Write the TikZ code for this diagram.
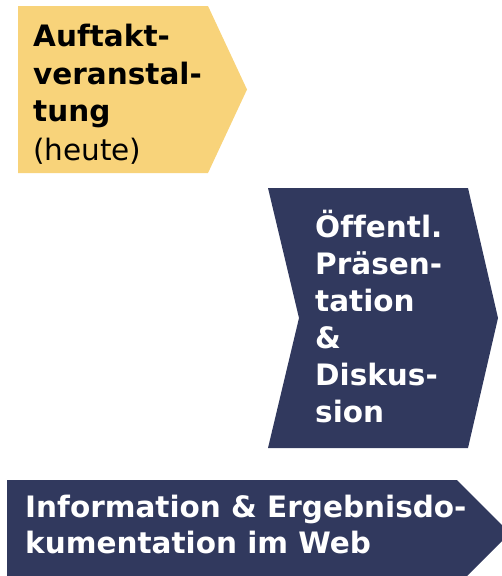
\documentclass[tikz,border=0pt]{standalone}
\usepackage{fontspec}
\setmainfont[Ligatures=NoCommon]{DejaVu Sans}
\definecolor{stepyellow}{RGB}{248,211,122}
\definecolor{stepnavy}{RGB}{49,57,94}
\tikzset{
  lbl/.style={anchor=base west, inner sep=0pt, font=\fontsize{29.5}{37}\selectfont\bfseries},
  lbldark/.style={lbl, text=black},
  lbllight/.style={lbl, text=white},
}
\begin{document}
\begin{tikzpicture}[x=1pt,y=-1pt]
\useasboundingbox (0,0) rectangle (502,576);
\clip (0,0) rectangle (502,576);
% shapes
\fill[stepyellow] (18,6) -- (208,6) -- (247,89.5) -- (208,173) -- (18,173) -- cycle;
\fill[stepnavy] (268,188) -- (468,188) -- (498,318) -- (468,448) -- (268,448) -- (299,318) -- cycle;
\fill[stepnavy] (7,480) -- (457,480) -- (510,533) -- (457,586) -- (7,586) -- cycle;
% texts
\node[lbldark] (a1) at (33,46) {Auftakt-};
\node[lbldark] (a2) at (33,84) {veranstal-};
\node[lbldark] (a3) at (33,121) {tung};
\node[lbldark, font=\fontsize{29.5}{37}\selectfont] (a4) at (33,160) {(heute)};
\node[lbllight] (b1) at (315,237) {Öffentl.};
\node[lbllight] (b2) at (315,274) {Präsen-};
\node[lbllight] (b3) at (315,311) {tation};
\node[lbllight] (b4) at (315,348) {\&};
\node[lbllight] (b5) at (315,385) {Diskus-};
\node[lbllight] (b6) at (315,422) {sion};
\node[lbllight] (c1) at (25,517) {Information \& Ergebnisdo-};
\node[lbllight] (c2) at (25,553) {kumentation im Web};
\end{tikzpicture}
\end{document}
